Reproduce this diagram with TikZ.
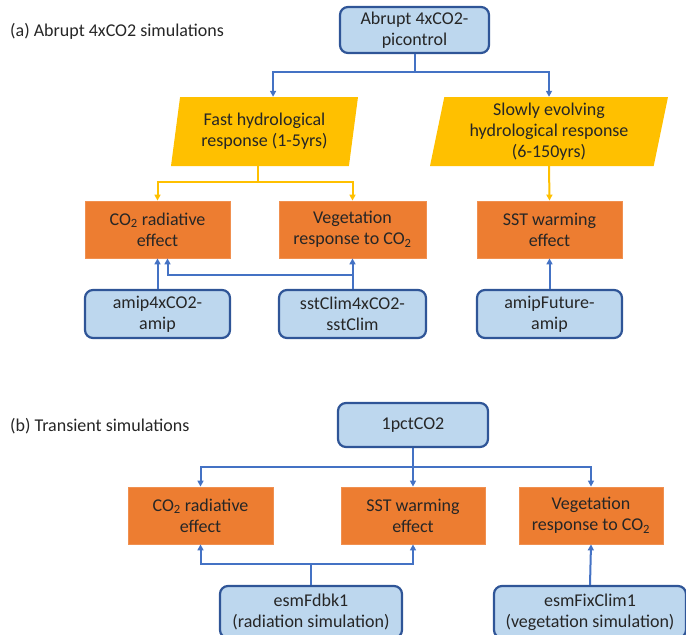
\documentclass[tikz,border=0pt]{standalone}
\usepackage{fontspec}
\setmainfont{Carlito}
\usetikzlibrary{shapes.geometric,arrows.meta}

\definecolor{simfill}{HTML}{BDD7EE}
\definecolor{simdraw}{HTML}{2F5597}
\definecolor{effectfill}{HTML}{ED7D31}
\definecolor{respfill}{HTML}{FFC000}
\definecolor{linkblue}{HTML}{4472C4}
\definecolor{textgray}{HTML}{262626}

\begin{document}
\begin{tikzpicture}[x=1pt,y=-1pt,
    every node/.style={font=\fontsize{18}{21}\selectfont,text=textgray,align=center,inner sep=0pt},
    simbox/.style={draw=simdraw,line width=2.2pt,fill=simfill,rounded corners=8pt,minimum height=48pt},
    effectbox/.style={fill=effectfill,draw=effectfill!85!white,line width=0.8pt,minimum height=57pt},
    respbox/.style={trapezium,trapezium left angle=76,trapezium right angle=104,trapezium stretches body,
        fill=respfill,minimum height=69pt},
    blueline/.style={draw=linkblue,line width=2pt},
    bluearrow/.style={blueline,-{Triangle[length=6pt,width=6pt]}},
    yellowline/.style={draw=respfill,line width=2pt},
    yellowarrow/.style={yellowline,-{Triangle[length=6pt,width=6pt]}}]
    \useasboundingbox (0,0) rectangle (686,635);

    % (a) abrupt 4xCO2
    \node[anchor=west] (titleA) at (10,31) {(a) Abrupt 4xCO2 simulations};
    \node[simbox,minimum width=149pt,minimum height=46pt] (abrupt) at (414.5,30) {Abrupt 4xCO2-\\picontrol};

    \node[respbox,minimum width=187pt] (fast) at (264.5,131.5) {Fast hydrological\\response (1-5yrs)};
    \node[respbox,minimum width=238pt] (slow) at (549,131.5) {Slowly evolving\\hydrological response\\(6-150yrs)};

    \node[effectbox,minimum width=145pt] (co2a) at (157.5,229.5) {CO\textsubscript{2} radiative\\effect};
    \node[effectbox,minimum width=147pt] (vega) at (352.5,229.5) {Vegetation\\response to CO\textsubscript{2}};
    \node[effectbox,minimum width=145pt] (ssta) at (549.5,229.5) {SST warming\\effect};

    \node[simbox,minimum width=145pt] (amip) at (157.5,314) {amip4xCO2-\\amip};
    \node[simbox,minimum width=147pt] (sstclim) at (352.5,314) {sstClim4xCO2-\\sstClim};
    \node[simbox,minimum width=145pt] (amipfut) at (549.5,314) {amipFuture-\\amip};

    \coordinate (splitA) at (414.5,72);
    \draw[blueline] (abrupt.south) -- (splitA);
    \draw[bluearrow] (splitA) -| ([xshift=4pt]fast.top side);
    \draw[bluearrow] (splitA) -| (slow.north);

    \coordinate (splitF) at ([xshift=-2pt]fast.bottom side |- 0,182);
    \draw[yellowline] ([xshift=-2pt]fast.bottom side) -- (splitF);
    \draw[yellowarrow] (splitF) -| (co2a.north);
    \draw[yellowarrow] (splitF) -| (vega.north);
    \draw[yellowarrow] (slow.south) -- (ssta.north);

    \coordinate (joinS) at (sstclim.north |- 0,275);
    \draw[bluearrow] (amip.north) -- (co2a.south);
    \draw[bluearrow] (sstclim.north) -- (vega.south);
    \draw[bluearrow] (joinS) -| ([xshift=10pt]co2a.south);
    \draw[bluearrow] (amipfut.north) -- (ssta.south);

    % (b) transient
    \node[anchor=west] (titleB) at (10,426) {(b) Transient simulations};
    \node[simbox,minimum width=150pt,minimum height=44pt] (pct) at (413,425) {1pctCO2};

    \node[effectbox,minimum width=145pt] (co2b) at (200.5,515.5) {CO\textsubscript{2} radiative\\effect};
    \node[effectbox,minimum width=144pt] (sstb) at (413,515.5) {SST warming\\effect};
    \node[effectbox,minimum width=144pt] (vegb) at (591,515.5) {Vegetation\\response to CO\textsubscript{2}};

    \node[simbox,minimum width=182pt,minimum height=52pt] (fdbk) at (311,612) {esmFdbk1\\(radiation simulation)};
    \node[simbox,minimum width=192pt,minimum height=52pt] (fixclim) at (590,612) {esmFixClim1\\(vegetation simulation)};

    \coordinate (splitP) at (413,467);
    \draw[blueline] (pct.south) -- (splitP);
    \draw[bluearrow] (splitP) -| (co2b.north);
    \draw[bluearrow] (splitP) -- (sstb.north);
    \draw[bluearrow] (splitP) -| (vegb.north);

    \coordinate (joinF) at (311,564);
    \draw[blueline] (fdbk.north) -- (joinF);
    \draw[bluearrow] (joinF) -| (co2b.south);
    \draw[bluearrow] (joinF) -| (sstb.south);
    \draw[bluearrow] (fixclim.north) -- (vegb.south);
\end{tikzpicture}
\end{document}
